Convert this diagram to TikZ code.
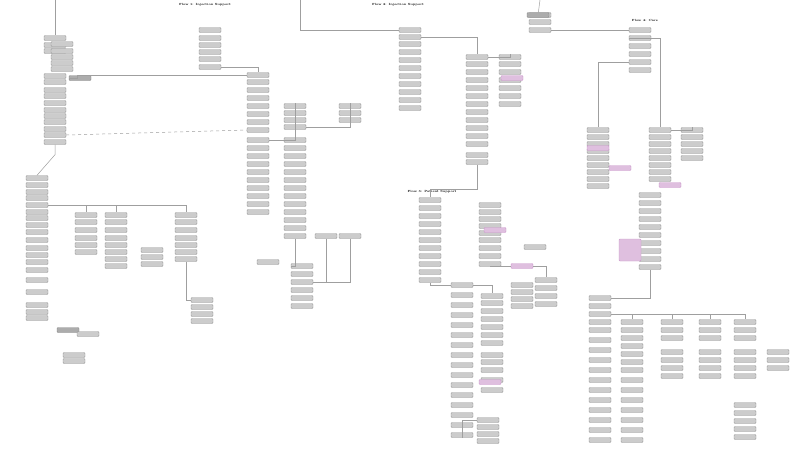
\documentclass[tikz,border=0pt]{standalone}
\begin{document}
\begin{tikzpicture}[x=1pt,y=-1pt,
 bx/.style={draw=gray!80,fill=gray!40,rounded corners=1pt,minimum width=22pt,minimum height=5pt,inner sep=0pt},
 dk/.style={bx,fill=gray!65,draw=gray!90},
 pu/.style={bx,fill=violet!25,draw=violet!40},
 ln/.style={draw=gray!75,line width=0.5pt},
 hd/.style={font=\fontsize{3}{3}\selectfont\bfseries,inner sep=0pt}]
\useasboundingbox (0,0) rectangle (800,450);
\fill[white] (0,0) rectangle (800,450);
% headings
\node[hd] (h1) at (205,5) {Flow 1: Injection Support};
\node[hd] (h2) at (398,5) {Flow 2: Injection Support};
\node[hd] (h3) at (432,192) {Flow 3: Patient Support};
\node[hd] (h4) at (645,20) {Flow 4: Care};
% cluster A
\foreach \y [count=\i] in {38,45,51,76,82,90,96,103,110,116,122,129,135,142} \node[bx] (a\i) at (55,\y) {};
\foreach \y [count=\i] in {44,51,57,63,69} \node[bx] (b\i) at (62,\y) {};
\node[dk] (ax) at (80,78) {};
\foreach \y [count=\i] in {178,185,192,198,205,212,218,225,232,240,248,255,262,270,280,292,305,312,318} \node[bx] (c\i) at (37,\y) {};
\foreach \y [count=\i] in {215,222,230,238,245,252} \node[bx] (d\i) at (86,\y) {};
\foreach \y [count=\i] in {215,222,230,238,245,252,259,266} \node[bx] (e\i) at (116,\y) {};
\foreach \y [count=\i] in {250,257,264} \node[bx] (f\i) at (152,\y) {};
\foreach \y [count=\i] in {215,222,230,238,245,252,259} \node[bx] (g\i) at (186,\y) {};
\foreach \y [count=\i] in {300,307,314,321} \node[bx] (k\i) at (202,\y) {};
\node[dk] (m1) at (68,330) {}; \node[bx] (m2) at (88,334) {};
\node[bx] (m3) at (74,355) {}; \node[bx] (m4) at (74,361) {};
% flow1
\foreach \y [count=\i] in {30,38,45,52,59,67} \node[bx] (p\i) at (210,\y) {};
\foreach \y [count=\i] in {75,82,90,98,106,114,122,130,140,148,156,164,172,180,188,196,204,212} \node[bx] (q\i) at (258,\y) {};
\foreach \y [count=\i] in {106,113,120,127,140,148,156,164,172,180,188,196,204,212,220,228,236} \node[bx] (r\i) at (295,\y) {};
\foreach \y [count=\i] in {106,113,120} \node[bx] (s\i) at (350,\y) {};
\node[bx] (t1) at (326,236) {}; \node[bx] (t2) at (350,236) {};
\foreach \y [count=\i] in {266,274,282,290,298,306} \node[bx] (u\i) at (302,\y) {};
\node[bx] (u7) at (268,262) {};
% flow2
\foreach \y [count=\i] in {30,37,44,52,60,68,76,84,92,100,108} \node[bx] (v\i) at (410,\y) {};
\foreach \y [count=\i] in {57,64,72,80,88,96,104,112,120,128,136,144,155,162} \node[bx] (w\i) at (477,\y) {};
\foreach \y [count=\i] in {57,64,72,80,88,96,104} \node[bx] (x\i) at (510,\y) {};
\node[pu] (w0) at (512,78) {};
\foreach \y [count=\i] in {15,22,30} \node[bx] (y\i) at (540,\y) {};
\node[dk] (y1b) at (538,15) {};
% flow4
\foreach \y [count=\i] in {30,38,46,54,62,70} \node[bx] (z\i) at (640,\y) {};
\foreach \y [count=\i] in {130,137,144,151,158,165,172,179,186} \node[bx] (aa\i) at (598,\y) {};
\node[pu] (ab1) at (598,148) {}; \node[pu] (ab2) at (620,168) {};
\foreach \y [count=\i] in {130,137,144,151,158,165,172,179} \node[bx] (ac\i) at (660,\y) {};
\foreach \y [count=\i] in {130,137,144,151,158} \node[bx] (ad\i) at (692,\y) {};
\node[pu] (ae) at (670,185) {};
\foreach \y [count=\i] in {195,203,211,219,227,235,243,251,259,267} \node[bx] (af\i) at (650,\y) {};
\node[pu,minimum height=22pt] (ag) at (630,250) {};
% flow3
\foreach \y [count=\i] in {200,208,216,224,232,240,248,256,264,272,280} \node[bx] (ba\i) at (430,\y) {};
\foreach \y [count=\i] in {205,212,219,226,233,240,248,256,264} \node[bx] (bb\i) at (490,\y) {};
\node[pu] (bb0) at (495,230) {};
\node[bx] (bc) at (535,247) {};
\node[pu] (bd) at (522,266) {};
\foreach \y [count=\i] in {285,292,299,306} \node[bx] (be\i) at (522,\y) {};
\foreach \y [count=\i] in {280,288,296,304} \node[bx] (bf\i) at (546,\y) {};
\foreach \y [count=\i] in {285,295,305,315,325,335,345,355,365,375,385,395,405,415,425,435} \node[bx] (bg\i) at (462,\y) {};
\foreach \y [count=\i] in {296,303,311,319,327,335,343,355,362,370,380,390} \node[bx] (bh\i) at (492,\y) {};
\node[pu] (bh0) at (490,382) {};
\foreach \y [count=\i] in {420,427,434,441} \node[bx] (bi\i) at (488,\y) {};
% bottom right
\foreach \y [count=\i] in {298,306,314,322,330,340,350,360,370,380,390,400,410,420,430,440} \node[bx] (ca\i) at (600,\y) {};
\foreach \y [count=\i] in {322,330,338,346,354,362,370,380,390,400,410,420,430,440} \node[bx] (cb\i) at (632,\y) {};
\foreach \y [count=\i] in {322,330,338,352,360,368,376} \node[bx] (cc\i) at (672,\y) {};
\foreach \y [count=\i] in {322,330,338,352,360,368,376} \node[bx] (cd\i) at (710,\y) {};
\foreach \y [count=\i] in {322,330,338,352,360,368,376,405,413,421,429,437} \node[bx] (ce\i) at (745,\y) {};
\foreach \y [count=\i] in {352,360,368} \node[bx] (cf\i) at (778,\y) {};
% connectors
\coordinate (top1) at (55,0); \draw[ln] (top1) -- (a1);
\coordinate (top2) at (300,0); \draw[ln] (top2) |- (v1);
\coordinate (top3) at (540,0); \draw[ln] (top3) -- (y1b);
\draw[ln] (p6.east) -| (q1.north);
\draw[ln] (q1.west) -- ++(-170,0) |- (ax);
\draw[ln,dashed] (a13.east) -- (q8.west);
\draw[ln] (a14.south) -- ++(0,10) -- (c1.north);
\draw[ln] (c5.east) -- ++(40,0) -| (d1.north);
\draw[ln] (c5.east) -| (e1.north);
\draw[ln] (c5.east) -| (g1.north);
\draw[ln] (q9.east) -| (r1.north);
\draw[ln] (r4.east) -| (s1.north);
\draw[ln] (r17.south) |- (u1);
\draw[ln] (t1.south) |- (u3); \draw[ln] (t2.south) |- (u3);
\draw[ln] (v2.east) -| (w1.north);
\draw[ln] (w1.east) -| (x1.north);
\draw[ln] (w14.south) -- ++(0,25) -| (ba1.north);
\draw[ln] (y3.east) -- (z1.west);
\draw[ln] (z5.west) -| (aa1.north);
\draw[ln] (z2.west) -| (ac1.north);
\draw[ln] (ac1.east) -| (ad1.north);
\draw[ln] (af10.south) |- (ca1);
\draw[ln] (ca3.east) -| (cb1.north); \draw[ln] (ca3.east) -| (cc1.north);
\draw[ln] (ca3.east) -| (cd1.north); \draw[ln] (ca3.east) -| (ce1.north);
\draw[ln] (ba11.south) |- (bg1);
\draw[ln] (bg1.east) -| (bh1.north);
\draw[ln] (bb9.south) |- (bd);
\draw[ln] (bd.east) -| (bf1.north);
\draw[ln] (bg16.south) |- (bi1);
\draw[ln] (g7.south) |- (k1);
\end{tikzpicture}
\end{document}
